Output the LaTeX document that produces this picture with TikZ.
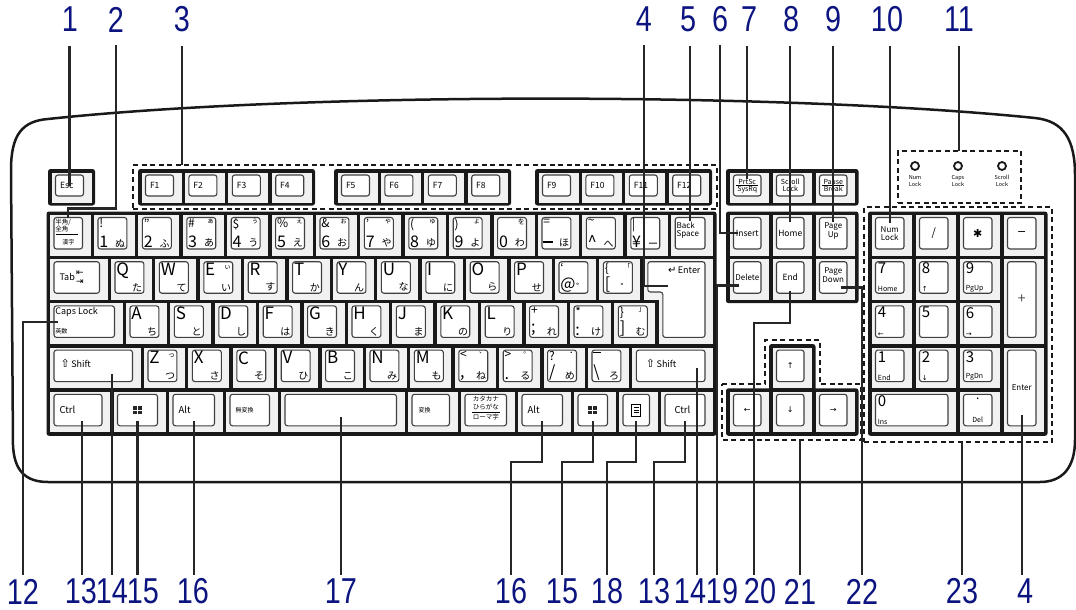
\documentclass[tikz,border=0pt]{standalone}
\usepackage{fontspec}
\setmainfont{Noto Sans CJK JP}
\newfontfamily\numfont{Liberation Sans}
\newfontfamily\symfont{DejaVu Sans}
\usetikzlibrary{positioning,calc}
\definecolor{navy}{RGB}{12,20,128}
\definecolor{cellgray}{RGB}{241,241,241}
\newcommand{\kf}[1]{\fontsize{#1}{#1}\selectfont}
\newcommand{\kbar}{\rule[0.3em]{0.6em}{0.12em}}
\tikzset{
  keycell/.style={fill=cellgray, inner sep=0, outer sep=0, anchor=north west},
  keyline/.style={draw=black!75, fill=white, line width=1.1pt, rounded corners=2.5pt},
  keytop/.style={keyline, inner sep=0, outer sep=0, anchor=north west},
  kframe/.style={fill=black!90, rounded corners=2.5pt},
  dashbox/.style={draw=black!90, line width=2.4pt, dash pattern=on 5pt off 3.5pt, inner sep=0, outer sep=0, anchor=north west},
  kbody/.style={draw=black!90, line width=2.5pt},
  callout/.style={draw=black!85, line width=2.2pt},
  callnum/.style={font=\numfont\kf{36}, text=navy, xscale=0.8, inner sep=0pt},
  ktl/.style={anchor=north west, inner sep=1.2pt},
  kbl/.style={anchor=south west, inner sep=1.2pt},
  ktr/.style={anchor=north east, inner sep=1.5pt},
  kbr/.style={anchor=south east, inner sep=1.5pt},
  led/.style={circle, draw=black!90, line width=1.8pt, minimum size=8pt, inner sep=0},
  ledtxt/.style={font=\fontsize{5.5}{6.5}\selectfont, align=center, inner sep=0}
}
\newcommand{\kcap}[5]{%
  \pgfmathsetmacro\kw{#4-12}\pgfmathsetmacro\kh{#5-9}%
  \node[keycell, minimum width=#4 pt, minimum height=#5 pt] (#1-bg) at (#2,#3) {};
  \node[keytop, minimum width=\kw pt, minimum height=\kh pt] (#1) at (#2+4,#3+2.5) {};
}
\newcommand{\symkey}[7]{%
  \kcap{#1}{#2}{#3}{40.9}{40.5}
  \node[ktl, font=\kf{12}] (#1-a) at (#1.north west) {#4};
  \node[kbl, font=\kf{16}] (#1-b) at (#1.south west) {#5};
  \node[ktr, font=\kf{7}] (#1-t) at (#1.north east) {#6};
  \node[kbr, font=\kf{10}] (#1-d) at (#1.south east) {#7};
}
\newcommand{\letkey}[6]{%
  \kcap{#1}{#2}{#3}{40.9}{40.5}
  \node[ktl, font=\kf{17}] (#1-a) at (#1.north west) {#4};
  \node[kbr, font=\kf{10}] (#1-d) at (#1.south east) {#5};
  \node[ktr, font=\kf{7}] (#1-t) at ([yshift=-2pt]#1.north east) {#6};
}
\newcommand{\winlogo}[1]{%
  \fill[black!85] ($(#1.center)+(-4.5,-4)$) rectangle ++(4,3.5);
  \fill[black!85] ($(#1.center)+(0.5,-4)$) rectangle ++(4,3.5);
  \fill[black!85] ($(#1.center)+(-4.5,0.5)$) rectangle ++(4,3.5);
  \fill[black!85] ($(#1.center)+(0.5,0.5)$) rectangle ++(4,3.5);
}
\newcommand{\menuicon}[1]{%
  \draw[line width=0.9pt] ($(#1.center)+(-4.5,-6)$) rectangle ++(9,12);
  \foreach \dy in {-2.5,0,2.5} {\draw[line width=0.7pt] ($(#1.center)+(-2.5,\dy)$) -- ++(5,0);}
}
\begin{document}
\begin{tikzpicture}[x=1pt, y=-1pt]
\useasboundingbox (0,0) rectangle (1076,610);
\draw[kbody] (48,119) .. controls (300,92) and (780,92) .. (1035,118) .. controls (1064,121) and (1075,140) .. (1075,175) -- (1075,440) .. controls (1075,468) and (1062,482) .. (1040,482) -- (48,482) .. controls (25,482) and (14,470) .. (13,445) -- (11,170) .. controls (11,135) and (22,121) .. (48,119) -- cycle;

% function row
\node[dashbox, minimum width=584 pt, minimum height=44 pt] (fgrp) at (133,165) {};
\fill[kframe] (48,169) rectangle (95,205.5);
\kcap{esc}{51.5}{172.5}{40}{30}
\node[anchor=west, font=\kf{8.5}] (esc-a) at ([xshift=1pt]esc.west) {Esc};
\foreach \g/\gx in {0/138, 1/334, 2/535} {
  \fill[kframe] (\gx,169) rectangle (\gx+177,205.5);
  \foreach \j in {1,...,4} {
    \pgfmathtruncatemacro\fn{4*\g+\j}
    \pgfmathsetmacro\cx{\gx+3.5+43.4*(\j-1)}
    \kcap{f\fn}{\cx}{172.5}{40}{30}
    \node[anchor=west, font=\kf{8.5}] (f\fn-a) at ([xshift=1pt]f\fn.west) {F\fn};
  }
}

% print screen group
\fill[kframe] (726,169) rectangle (858.5,205.5);
\foreach \n [count=\k from 0] in {prt,scr,pau} {
  \pgfmathsetmacro\cx{729.5+43*\k}
  \kcap{\n}{\cx}{172.5}{39.5}{30}
}
\node[anchor=south, font=\kf{7}, inner sep=0.6pt] (prt-a) at (prt.center) {PrtSc};
\node[anchor=north, font=\kf{7}, inner sep=0.6pt] (prt-b) at (prt.center) {SysRq};
\draw[line width=0.6pt] ([xshift=-11pt]prt.center) -- ([xshift=11pt]prt.center);
\node[font=\fontsize{7}{7.5}\selectfont, align=center, inner sep=0] (scr-a) at (scr.center) {Scroll\\Lock};
\node[anchor=south, font=\kf{7}, inner sep=0.6pt] (pau-a) at (pau.center) {Pause};
\node[anchor=north, font=\kf{7}, inner sep=0.6pt] (pau-b) at (pau.center) {Break};
\draw[line width=0.6pt] ([xshift=-11pt]pau.center) -- ([xshift=11pt]pau.center);

% indicators
\node[dashbox, minimum width=123 pt, minimum height=52 pt] (ledgrp) at (898,151) {};
\foreach \n/\x/\a/\b in {l1/915/Num/Lock, l2/958/Caps/Lock, l3/1002/Scroll/Lock} {
  \node[led] (\n) at (\x,166) {};
  \node[ledtxt, below=4.5pt of \n] (\n-t) {\a\\\b};
}

% main block
\fill[kframe] (46.5,211.5) rectangle (716.5,435.8);
\kcap{hz}{50}{215}{40.5}{40.5}
\node[ktl, font=\fontsize{6.5}{7.5}\selectfont, align=left] (hz-a) at (hz.north west) {半角/\\全角};
\draw[line width=0.6pt] ([shift={(2pt,-17pt)}]hz.north west) -- ++(22,0);
\node[anchor=north, font=\kf{6}] (hz-b) at ([yshift=-18.5pt]hz.north) {漢字};
\foreach \i/\a/\b/\c/\d in {0/!/1/{}/ぬ, 1/"/2/{}/ふ, 2/\#/3/ぁ/あ, 3/\$/4/ぅ/う, 4/\%/5/ぇ/え, 5/\&/6/ぉ/お, 6/'/7/ゃ/や, 7/{(}/8/ゅ/ゆ, 8/{)}/9/ょ/よ, 9/{}/0/を/わ, 10/=/\kbar/{}/ほ, 11/\textasciitilde/\textasciicircum/{}/へ, 12/|/¥/{}/ー}
  {\pgfmathsetmacro\cx{94+44.4*\i}\symkey{r1k\i}{\cx}{215}{\a}{\b}{\c}{\d}}
\kcap{bs}{671.2}{215}{41.8}{40.5}
\node[ktl, font=\fontsize{8}{8}\selectfont, align=left] (bs-a) at ([yshift=-3pt]bs.north west) {Back\\Space};

\kcap{tab}{50}{259.2}{57.5}{40.5}
\node[anchor=west, font=\kf{9}] (tab-a) at ([xshift=2pt]tab.west) {Tab};
\node[anchor=west, font=\symfont\fontsize{9}{9}\selectfont, align=left, inner sep=0] (tab-b) at ([xshift=22pt]tab.west) {⇤\\⇥};
\foreach \i/\a/\d/\c in {0/Q/た/{}, 1/W/て/{}, 2/E/い/ぃ, 3/R/す/{}, 4/T/か/{}, 5/Y/ん/{}, 6/U/な/{}, 7/I/に/{}, 8/O/ら/{}, 9/P/せ/{}}
  {\pgfmathsetmacro\cx{111+44.4*\i}\letkey{r2k\i}{\cx}{259.2}{\a}{\d}{\c}}
\foreach \i/\a/\b/\c/\d in {10/`/@/{}/゛, 11/\{/[/「/゜}
  {\pgfmathsetmacro\cx{111+44.4*\i}\symkey{r2k\i}{\cx}{259.2}{\a}{\b}{\c}{\d}}
\fill[cellgray] (643.8,259.2) rectangle (713,299.7);
\fill[cellgray] (658.8,299) rectangle (713,343.9);
\draw[keyline] (647.8,261.7) -- (705,261.7) -- (705,337.4) -- (662.8,337.4) -- (662.8,292) -- (647.8,292) -- cycle;
\coordinate (entr) at (668,286);
\node[anchor=north east, font=\kf{9}] (ent-a) at (704,263) {{\symfont\kf{10}↵}\,Enter};

\kcap{caps}{50}{303.4}{72.5}{40.5}
\node[ktl, font=\kf{9}] (caps-a) at (caps.north west) {Caps Lock};
\node[kbl, font=\kf{6}] (caps-b) at ([yshift=2pt]caps.south west) {英数};
\foreach \i/\a/\d in {0/A/ち, 1/S/と, 2/D/し, 3/F/は, 4/G/き, 5/H/く, 6/J/ま, 7/K/の, 8/L/り}
  {\pgfmathsetmacro\cx{126+44.4*\i}\letkey{r3k\i}{\cx}{303.4}{\a}{\d}{}}
\foreach \i/\a/\b/\c/\d in {9/+/;/{}/れ, 10/*/:/{}/け, 11/\}/]/」/む}
  {\pgfmathsetmacro\cx{126+44.4*\i}\symkey{r3k\i}{\cx}{303.4}{\a}{\b}{\c}{\d}}

\kcap{shiftL}{50}{347.6}{90.5}{40.5}
\node[anchor=west, font=\kf{9}] (shiftL-a) at ([shift={(3pt,2pt)}]shiftL.west) {{\symfont\kf{11}⇧}\,Shift};
\foreach \i/\a/\d/\c in {0/Z/つ/っ, 1/X/さ/{}, 2/C/そ/{}, 3/V/ひ/{}, 4/B/こ/{}, 5/N/み/{}, 6/M/も/{}}
  {\pgfmathsetmacro\cx{144+44.4*\i}\letkey{r4k\i}{\cx}{347.6}{\a}{\d}{\c}}
\foreach \i/\a/\b/\c/\d in {7/</{,}/、/ね, 8/>/./。/る, 9/?/{/}/・/め, 10/\kbar/\textbackslash/{}/ろ}
  {\pgfmathsetmacro\cx{144+44.4*\i}\symkey{r4k\i}{\cx}{347.6}{\a}{\b}{\c}{\d}}
\kcap{shiftR}{632.4}{347.6}{80.6}{40.5}
\node[anchor=west, font=\kf{9}] (shiftR-a) at ([shift={(6pt,2pt)}]shiftR.west) {{\symfont\kf{11}⇧}\,Shift};

\foreach \n/\x/\kwd in {ctrlL/50/60, winL/113.5/52, altL/169/53.5, muhen/226/51.5, space/281/123.5, henk/408/49.5, kana/461/53.5, altR/518/52.5, winR/574/41.5, menu/619/38.5, ctrlR/661/52}
  {\kcap{\n}{\x}{391.8}{\kwd}{40.5}}
\node[anchor=west, font=\kf{9.5}] (ctrlL-a) at ([xshift=2pt]ctrlL.west) {Ctrl};
\winlogo{winL}
\node[anchor=west, font=\kf{9.5}] (altL-a) at ([xshift=2pt]altL.west) {Alt};
\node[anchor=west, font=\kf{6}] (muhen-a) at ([xshift=2pt]muhen.west) {無変換};
\node[anchor=west, font=\kf{6}] (henk-a) at ([xshift=3pt]henk.west) {変換};
\node[anchor=north, font=\fontsize{6.5}{7.5}\selectfont, align=center, inner sep=0] (kana-a) at ([yshift=-2pt]kana.north) {カタカナ\\ひらがな};
\draw[line width=0.6pt] ([shift={(-14pt,-18pt)}]kana.north) -- ++(28,0);
\node[anchor=north, font=\kf{6.5}, inner sep=0] (kana-b) at ([yshift=-20pt]kana.north) {ローマ字};
\node[anchor=west, font=\kf{9.5}] (altR-a) at ([xshift=2pt]altR.west) {Alt};
\winlogo{winR}
\menuicon{menu}
\node[anchor=west, font=\kf{9.5}] (ctrlR-a) at ([xshift=6pt]ctrlR.west) {Ctrl};

% editing block
\fill[kframe] (726,211.5) rectangle (858.5,303.2);
\foreach \n/\k/\ry in {ins/0/215, home/1/215, pgup/2/215, del/0/259.2, endk/1/259.2, pgdn/2/259.2}
  {\pgfmathsetmacro\cx{729.5+43*\k}\kcap{\n}{\cx}{\ry}{39.5}{40.5}}
\node[font=\kf{8.5}, inner sep=0] (ins-a) at (ins.center) {Insert};
\node[font=\kf{8.5}, inner sep=0] (home-a) at (home.center) {Home};
\node[font=\fontsize{8}{7.5}\selectfont, align=center, inner sep=0] (pgup-a) at ([yshift=2pt]pgup.center) {Page\\Up};
\node[font=\kf{8}, inner sep=0] (del-a) at (del.center) {Delete};
\node[font=\kf{8.5}, inner sep=0] (endk-a) at (endk.center) {End};
\node[font=\fontsize{8}{7.5}\selectfont, align=center, inner sep=0] (pgdn-a) at ([yshift=2pt]pgdn.center) {Page\\Down};

% arrow keys
\draw[dashbox] (722,384) -- (765,384) -- (765,340) -- (820,340) -- (820,384) -- (861,384) -- (861,440) -- (722,440) coordinate (arbl) -- cycle;
\fill[kframe] (769,344.1) rectangle (815.5,392);
\fill[kframe] (726,388.3) rectangle (858.5,435.8);
\kcap{aku}{772.5}{347.6}{39.5}{40.5}
\foreach \n/\k in {akl/0, akd/1, akr/2}
  {\pgfmathsetmacro\cx{729.5+43*\k}\kcap{\n}{\cx}{391.8}{39.5}{40.5}}
\foreach \n/\s in {aku/↑, akl/←, akd/↓, akr/→}
  {\node[font=\symfont\kf{8}, inner sep=0] (\n-a) at (\n.center) {\s};}

% numeric keypad
\node[dashbox, minimum width=188 pt, minimum height=235 pt] (npgrp) at (864,207) {};
\fill[kframe] (868,211.5) rectangle (1047.5,435.8);
\foreach \n/\k/\ry/\kwd/\khd in {nlk/0/215/40.5/40.5, ndiv/1/215/40.5/40.5, nmul/2/215/40.5/40.5, nsub/3/215/40.5/40.5, n7/0/259.2/40.5/40.5, n8/1/259.2/40.5/40.5, n9/2/259.2/40.5/40.5, nadd/3/259.2/40.5/84.7, n4/0/303.4/40.5/40.5, n5/1/303.4/40.5/40.5, n6/2/303.4/40.5/40.5, n1/0/347.6/40.5/40.5, n2/1/347.6/40.5/40.5, n3/2/347.6/40.5/40.5, nent/3/347.6/40.5/84.7, n0/0/391.8/84.5/40.5, ndot/2/391.8/40.5/40.5}
  {\pgfmathsetmacro\cx{871.5+44*\k}\kcap{\n}{\cx}{\ry}{\kwd}{\khd}}
\node[font=\fontsize{8}{8}\selectfont, align=center, inner sep=0] (nlk-a) at (nlk.center) {Num\\Lock};
\node[font=\kf{11}, inner sep=0] (ndiv-a) at (ndiv.center) {/};
\node[font=\symfont\kf{11}, inner sep=0] (nmul-a) at (nmul.center) {✱};
\node[font=\symfont\kf{11}, inner sep=0] (nsub-a) at (nsub.center) {−};
\node[font=\kf{14}, text=black!70, inner sep=0] (nadd-a) at (nadd.center) {+};
\node[font=\kf{8}, inner sep=0] (nent-a) at (nent.center) {Enter};
\foreach \n/\a/\b in {n7/7/Home, n8/8/{\symfont↑}, n9/9/PgUp, n4/4/{\symfont←}, n5/5/{}, n6/6/{\symfont→}, n1/1/End, n2/2/{\symfont↓}, n3/3/PgDn, n0/0/Ins}
  {\node[ktl, font=\kf{15}] (\n-a) at ([xshift=1pt]\n.north west) {\a};
   \node[kbl, font=\kf{7}] (\n-b) at ([xshift=1pt]\n.south west) {\b};}
\node[anchor=north, font=\kf{12}] (ndot-a) at (ndot.north) {.};
\node[anchor=south, font=\kf{7}] (ndot-b) at (ndot.south) {Del};

% callout numbers
\foreach \n/\x in {1/70, 2/116, 3/182, 4/644, 5/688, 6/720, 7/749, 8/791, 9/833, 10/887, 11/959}
  {\node[callnum] (t\n) at (\x,19.5) {\n};}
\foreach \n/\t/\x in {b12/12/23, b13/13/81, b14/14/112, b15/15/143, b16/16/193, b17/17/341, b16r/16/511, b15r/15/562, b18/18/607, b13r/13/654, b14r/14/690, b19/19/722, b20/20/760, b21/21/800, b22/22/862, b23/23/962, b4r/4/1025}
  {\node[callnum] (\n) at (\x,591.5) {\t};}
\coordinate (toprow) at (0,46.5);
\coordinate (botrow) at (0,575);
\coordinate (bend) at (0,462);

% callout lines, top
\draw[callout] (esc.center) -- (esc.center |- toprow);
\draw[callout] (hz.north) -- ++(0,-9) -| ([yshift=-13pt]t2.south);
\draw[callout] (t3.south |- toprow) -- (t3.south |- fgrp.north);
\draw[callout] (entr) -| ([yshift=-13pt]t4.south);
\draw[callout] ([yshift=-3pt]bs.north) -- (bs.north |- toprow);
\draw[callout] ([xshift=4pt]ins.west) -| ([yshift=-13pt]t6.south);
\draw[callout] ([yshift=-4pt]prt.north) -- (prt.north |- toprow);
\draw[callout] ([yshift=-4pt]home.north) -- (home.north |- toprow);
\draw[callout] ([yshift=-4pt]pgup.north) -- (pgup.north |- toprow);
\draw[callout] ([yshift=-5pt]nlk.north) -- (nlk.north |- toprow);
\draw[callout] (t11.south |- toprow) -- (t11.south |- ledgrp.north);

% callout lines, bottom
\coordinate (p13) at ([shift={(4pt,5pt)}]ctrlL.south);
\coordinate (p14) at ([shift={(19pt,8pt)}]shiftL.south);
\coordinate (p15) at ([yshift=5pt]winL.south);
\coordinate (p16) at ([yshift=5pt]altL.south);
\coordinate (p17) at ([yshift=9pt]space.south);
\coordinate (p14r) at ([shift={(26pt,14pt)}]shiftR.south);
\coordinate (p4r) at ([yshift=11pt]nent.south);
\draw[callout] ([xshift=4pt]caps.west) -| ([yshift=3.5pt]b12.north);
\draw[callout] (p13) -- (p13 |- botrow);
\draw[callout] (p14) -- (p14 |- botrow);
\draw[callout] (p15) -- (p15 |- botrow);
\draw[callout] (p16) -- (p16 |- botrow);
\draw[callout] (p17) -- (p17 |- botrow);
\draw[callout] ([yshift=5pt]altR.south) -- (altR.south |- bend) -| ([yshift=3.5pt]b16r.north);
\draw[callout] ([yshift=5pt]winR.south) -- (winR.south |- bend) -| ([yshift=3.5pt]b15r.north);
\draw[callout] ([yshift=5pt]menu.south) -- (menu.south |- bend) -| ([yshift=3.5pt]b18.north);
\draw[callout] ([yshift=5pt]ctrlR.south) -- (ctrlR.south |- bend) -| ([yshift=3.5pt]b13r.north);
\draw[callout] (p14r) -- (p14r |- botrow);
\draw[callout] ([shift={(5pt,-8pt)}]del.west) -| ([shift={(-5pt,3.5pt)}]b19.north);
\draw[callout] ([yshift=2pt]endk.south) -- ([yshift=-30pt]endk.south) -| ([shift={(-6pt,3.5pt)}]b20.north);
\draw[callout] (b21.north |- botrow) -- (b21.north |- arbl);
\draw[callout] ([shift={(-6pt,-10pt)}]pgdn.east) -| ([yshift=3.5pt]b22.north);
\draw[callout] (b23.north |- botrow) -- (b23.north |- npgrp.south);
\draw[callout] (p4r) -- (p4r |- botrow);
\end{tikzpicture}
\end{document}
